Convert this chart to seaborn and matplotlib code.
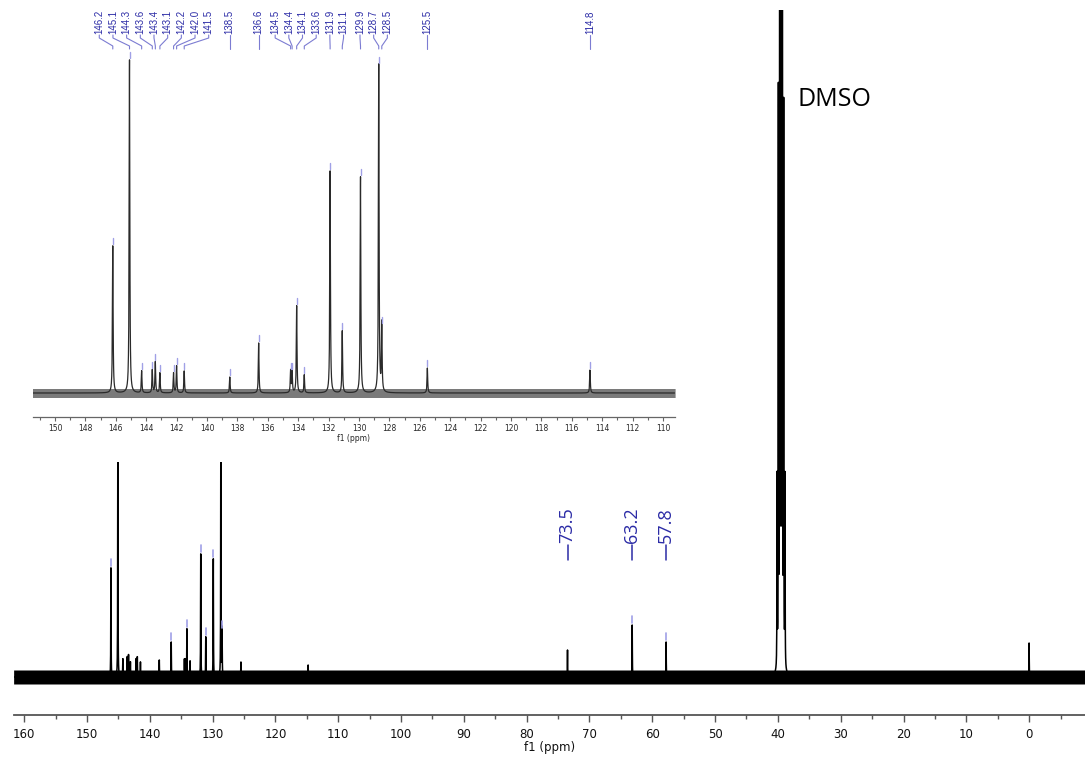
import numpy as np
import pandas as pd
import matplotlib
matplotlib.use("Agg")
import matplotlib.pyplot as plt
from matplotlib.ticker import MultipleLocator
import seaborn as sns

# picked aromatic peaks (ppm) and their heights (px) in the inset and in the full spectrum
aro_ppm = [146.2, 145.1, 144.3, 143.6, 143.4, 143.1, 142.2, 142.0, 141.5, 138.5, 136.6,
           134.5, 134.4, 134.1, 133.6, 131.9, 131.1, 129.9, 128.7, 128.5, 125.5, 114.8]
aro_inset_h = [147, 333, 22, 23, 31, 20, 20, 27, 22, 16, 50,
               22, 22, 87, 18, 222, 62, 216, 328, 68, 25, 23]
aro_main_h = [109, 260, 18, 20, 22, 15, 18, 20, 15, 17, 35,
              17, 17, 48, 16, 123, 40, 118, 260, 47, 15, 12]
# aliphatic peaks
ali_ppm = [73.5, 63.2, 57.8]
ali_h = [27, 52, 35]
# solvent septet and TMS
dmso_ppm = [40.13, 39.92, 39.71, 39.50, 39.29, 39.08, 38.87]
dmso_h = [190, 568, 1190, 1390, 1190, 553, 190]
tms_ppm = [0.0]
tms_h = [34]

LBL = "#2b2ba6"
LINK = "#7c7cd2"
MARK = "#a0a0e6"


def spectrum(grid, ppm, h, w=0.025):
    y = np.zeros_like(grid)
    for p, a in zip(ppm, h):
        y += a * w ** 2 / ((grid - p) ** 2 + w ** 2)
    return y


def spread(xs, gap):
    # group labels that would overlap and centre each group on its peaks
    groups = [[x] for x in sorted(xs, reverse=True)]

    def place(g):
        c = np.mean(g)
        n = len(g)
        return [c + gap * ((n - 1) / 2 - i) for i in range(n)]

    merged = True
    while merged:
        merged = False
        for i in range(len(groups) - 1):
            if place(groups[i])[-1] - place(groups[i + 1])[0] < gap:
                groups[i] = groups[i] + groups.pop(i + 1)
                merged = True
                break
    out = []
    for g in groups:
        out += place(g)
    return out


sns.set_style("white")
plt.rcParams["font.family"] = ["DejaVu Sans"]

W, H = 1085, 758
fig = plt.figure(figsize=(W / 100, H / 100), dpi=100)


def rect(l, t, r, b):
    return [l / W, 1 - b / H, (r - l) / W, (b - t) / H]


ax = fig.add_axes(rect(13.6, 10, 1085, 715))
axin = fig.add_axes(rect(33, 0, 674.5, 462))
ax.set_zorder(1)
axin.set_zorder(2)

# ---- full spectrum ----
grid = np.round(np.arange(-8.9, 161.7, 0.005), 3)
all_ppm = aro_ppm + ali_ppm + dmso_ppm + tms_ppm
all_h = aro_main_h + ali_h + dmso_h + tms_h
full = pd.DataFrame({"ppm": grid, "int": spectrum(grid, all_ppm, all_h)})
ax.fill_between(grid, -7, 7, color="black", lw=0)
sns.lineplot(data=full, x="ppm", y="int", estimator=None, sort=False,
             color="black", lw=1.1, ax=ax)

for p, h in zip(aro_ppm + ali_ppm, aro_main_h + ali_h):
    if h >= 30:
        ax.plot([p, p], [h + 2, h + 9], color=MARK, lw=1.2)

for p in ali_ppm:
    ax.plot([p, p], [117, 132], color=LBL, lw=1.1)
    ax.text(p, 134, f"{p:.1f}", rotation=90, ha="center", va="bottom",
            fontsize=13, color=LBL, family="Open Sans")

ax.text(36.9, 578, "DMSO", fontsize=18, family="Open Sans", va="center", ha="left",
        color="black")

ax.set_xlim(161.7, -8.9)
ax.set_ylim(-38, 667)
ax.set_xticks(range(0, 161, 10))
ax.xaxis.set_minor_locator(MultipleLocator(5))
ax.set_yticks([])
ax.set_ylabel("")
ax.set_xlabel("f1 (ppm)", fontsize=8.5, labelpad=0, color="#111111")
ax.tick_params(axis="x", which="major", length=5, width=1, color="#555555",
               labelsize=8.5, pad=4, bottom=True, labelcolor="#111111")
ax.tick_params(axis="x", which="minor", length=3, width=1, color="#555555", bottom=True)
for s in ["top", "left", "right"]:
    ax.spines[s].set_visible(False)
ax.spines["bottom"].set_color("#555555")
ax.spines["bottom"].set_linewidth(1.3)
ax.set_facecolor("none")

# ---- inset: aromatic region ----
g2 = np.round(np.arange(109.2, 151.5, 0.005), 3)
zoom = pd.DataFrame({"ppm": g2, "int": spectrum(g2, aro_ppm, aro_inset_h)})
axin.fill_between(g2, -4.5, 4.5, color="#7a7a7a", lw=0)
sns.lineplot(data=zoom, x="ppm", y="int", estimator=None, sort=False,
             color="#2a2a2a", lw=0.9, ax=axin)

for p, h in zip(aro_ppm, aro_inset_h):
    axin.plot([p, p], [h + 2, h + 8], color=MARK, lw=1.0)

lab_x = spread(aro_ppm, 0.9)
for p, lx in zip(sorted(aro_ppm, reverse=True), lab_x):
    axin.plot([lx, lx, p, p], [358, 355, 347, 344], color=LINK, lw=0.8)
    axin.text(lx, 359, f"{p:.1f}", rotation=90, ha="center", va="bottom",
              fontsize=7, color=LBL, family="Liberation Sans")

axin.set_xlim(151.45, 109.24)
axin.set_ylim(-69, 393)
axin.set_xticks(range(110, 151, 2))
axin.xaxis.set_minor_locator(MultipleLocator(1))
axin.set_yticks([])
axin.set_ylabel("")
axin.set_xlabel("f1 (ppm)", fontsize=5.5, labelpad=1)
axin.tick_params(axis="x", which="major", length=3, width=0.8, color="#666666",
                 labelsize=5.5, pad=2, bottom=True)
axin.tick_params(axis="x", which="minor", length=2, width=0.8, color="#666666", bottom=True)
for s in ["top", "left", "right"]:
    axin.spines[s].set_visible(False)
axin.spines["bottom"].set_position(("data", -24))
axin.spines["bottom"].set_color("#666666")
axin.spines["bottom"].set_linewidth(0.9)
axin.set_facecolor("white")

fig.savefig("out.png", dpi=100)
